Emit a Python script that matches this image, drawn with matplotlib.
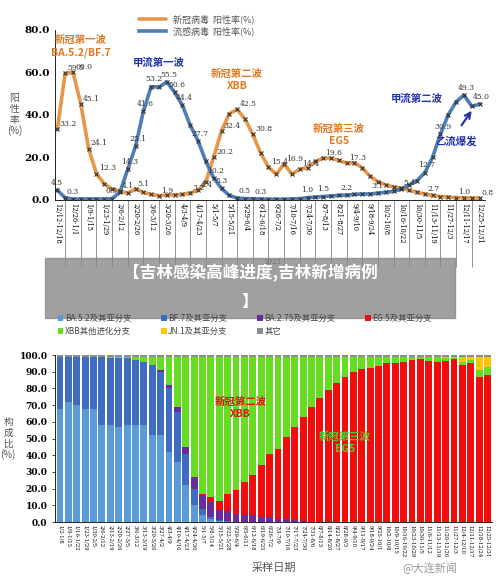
import matplotlib.pyplot as plt
from matplotlib.patches import Rectangle
import numpy as np

plt.rcParams['font.family'] = ['Noto Sans CJK SC', 'DejaVu Sans']

ORANGE = "#E8964A"
BLUE = "#4F7DB8"

# ---- top chart: weekly positivity rate, 2022-12-12 .. 2023-12-31
covid = [33.2, 59.5, 60.0, 45.1, 24.1, 12.3, 7.5, 5.0, 4.1, 3.1,
         5.1, 3.5, 2.5, 1.9, 2.2, 2.3, 2.5, 3.2, 4.4, 8.5,
         20.2, 32.4, 40.5, 42.5, 38.0, 30.8, 22.0, 15.4, 12.0, 16.9,
         12.0, 14.4, 15.0, 18.0, 19.6, 19.6, 18.5, 17.3, 17.5, 15.0,
         11.0, 8.5, 7.0, 6.0, 5.4, 4.5, 3.5, 2.7, 2.0, 1.5,
         1.2, 1.0, 0.9, 0.8, 0.8]
flu = [4.5, 0.9, 0.3, 0.3, 0.3, 0.3, 0.3, 0.5, 3.5, 14.3,
       25.1, 41.6, 53.2, 53.0, 55.5, 50.6, 44.4, 35.0, 27.7, 18.0,
       10.2, 5.3, 2.0, 0.8, 0.5, 0.5, 0.3, 0.2, 0.2, 0.2,
       0.3, 0.5, 1.0, 1.2, 1.5, 1.8, 2.0, 2.2, 2.5, 2.7,
       2.7, 3.1, 3.5, 4.0, 5.0, 7.0, 9.0, 12.7, 20.0, 30.9,
       40.0, 46.0, 49.3, 44.0, 45.0]
covid_lab = [0, 1, 2, 3, 4, 5, 8, 10, 13, 17, 18, 20, 21, 23, 25, 27, 29, 31, 34, 37, 44, 47, 51, 54]
flu_lab = [0, 2, 7, 9, 10, 11, 12, 14, 15, 16, 18, 20, 21, 24, 26, 32, 34, 37, 41, 47, 49, 52, 54]

# ---- bottom chart: variant composition, weekly 2023
weeks = ["1/2-1/8", "1/9-1/15", "1/16-1/22", "1/23-1/29", "1/30-2/5", "2/6-2/12", "2/13-2/19",
         "2/20-2/26", "2/27-3/5", "3/6-3/12", "3/13-3/19", "3/20-3/26", "3/27-4/2", "4/3-4/9",
         "4/10-4/16", "4/17-4/23", "4/24-4/30", "5/1-5/7", "5/8-5/14", "5/15-5/21", "5/22-5/28",
         "5/29-6/4", "6/5-6/11", "6/12-6/18", "6/19-6/25", "6/26-7/2", "7/3-7/9", "7/10-7/16",
         "7/17-7/23", "7/24-7/30", "7/31-8/6", "8/7-8/13", "8/14-8/20", "8/21-8/27", "8/28-9/3",
         "9/4-9/10", "9/11-9/17", "9/18-9/24", "9/25-10/1", "10/2-10/8", "10/9-10/15",
         "10/16-10/22", "10/23-10/29", "10/30-11/5", "11/6-11/12", "11/13-11/19", "11/20-11/26",
         "11/27-12/3", "12/4-12/10", "12/11-12/17", "12/18-12/24", "12/25-12/31"]
top_ticks = ["12/12-12/18", "12/26-1/1"] + weeks[1::2]

z = [0] * 52
ba52 = [68, 72, 70, 68, 68, 58, 58, 57, 58, 58, 58, 52, 52, 42, 36, 22, 10, 4, 2, 0.5] + z[:32]
bf7 = [31, 27, 29, 31, 31, 41, 40.5, 41, 40, 39, 38, 42, 38, 38, 30, 19, 10, 4, 1, 0.5, 0.5] + z[:31]
ba275 = [0] * 12 + [1, 2, 3, 4, 7, 8, 9, 6, 6, 5, 4, 4, 3, 3, 2, 2, 1, 0.5] + z[:22]
eg5 = [0] * 17 + [1, 3, 5.5, 10.5, 14, 20, 24, 31, 38, 42, 49, 56, 62.5,
                  69, 74, 79, 83, 87, 90, 91.5, 92, 93.5, 95, 95.5, 96, 97, 97.5, 96.5, 96,
                  96.5, 97.5, 94, 95.5, 87, 88]
xbb = [0, 0, 0, 0, 0, 0, 0.5, 1, 1, 2, 3, 5, 8, 17, 30, 54, 72, 82, 84, 86.5, 82, 80,
       75, 71, 65, 58, 55, 48, 42, 36, 30, 25, 20, 16, 12, 9, 7.5, 7, 5.5, 4, 3.5, 3, 2,
       1.5, 2.5, 3, 2, 0.5, 2, 1.5, 4, 5]
jn1 = [0] * 46 + [0.5, 1, 3, 2, 8, 6]
other = [1] * 52
series = [("BA.5.2及其亚分支", ba52, "#5B9BD5"), ("BF.7及其亚分支", bf7, "#3F6CC0"),
          ("BA.2.75及其亚分支", ba275, "#6A2C9A"), ("EG.5及其亚分支", eg5, "#F20D0D"),
          ("XBB其他进化分支", xbb, "#66DD22"), ("JN.1及其亚分支", jn1, "#FFC20E"),
          ("其它", other, "#8C8C8C")]

fig = plt.figure(figsize=(5.0, 5.84), dpi=100)

# ================= top chart
ax = fig.add_axes([0.11, 0.658, 0.86, 0.291])
x = np.arange(len(covid))
ax.plot(x, covid, color=ORANGE, lw=2.6, solid_capstyle="round", zorder=2, label="新冠病毒  阳性率(%)")
ax.plot(x, covid, ls="none", marker="x", ms=2.2, mew=0.8, color="#333", zorder=3)
ax.plot(x, flu, color=BLUE, lw=2.6, zorder=2, label="流感病毒  阳性率(%)")
ax.plot(x, flu, ls="none", marker="x", ms=2.2, mew=0.8, color="#333", zorder=3)
for i in covid_lab:
    ax.text(i + 0.3, covid[i] + 1.5, f"{covid[i]:.1f}", fontsize=5.5, family="DejaVu Serif", color="#333")
for i in flu_lab:
    ax.text(i - 0.8, flu[i] + 2.5, f"{flu[i]:.1f}", fontsize=5.5, family="DejaVu Serif", color="#333")
ax.set_xlim(-0.3, len(covid) - 0.3)
ax.set_ylim(0, 80)
ax.set_yticks([0, 20, 40, 60, 80])
ax.set_yticklabels([f"{v:.1f}" for v in [0, 20, 40, 60, 80]], family="DejaVu Serif", fontsize=7.5, fontweight="bold")
ax.set_xticks(np.arange(0, len(covid), 2))
ax.set_xticklabels(top_ticks, rotation=-90, fontsize=4.8, family="DejaVu Serif")
ax.set_xticks(np.arange(1, len(covid), 2), minor=True)
ax.tick_params(axis="x", which="major", length=0, pad=2)
ax.tick_params(axis="x", which="minor", length=48, width=0.5, color="#666")
ax.tick_params(axis="y", length=0)
for s in ["top", "right"]:
    ax.spines[s].set_visible(False)
ax.spines["left"].set_linewidth(0.6)
ax.spines["bottom"].set_linewidth(0.6)
ax.text(-5.5, 40, "阳\n性\n率\n(%)", fontsize=7, ha="center", va="center", color="#555", linespacing=1.1)
ax.legend(loc="upper center", bbox_to_anchor=(0.33, 1.14), frameon=False, fontsize=6.5,
          handlelength=3, labelspacing=0.3, labelcolor="#555")
ax.text(3, 68, "新冠第一波\nBA.5.2/BF.7", color="#E07A22", fontsize=7.5, fontweight="bold",
        ha="center", linespacing=1.3)
ax.text(13, 63, "甲流第一波", color="#2233AA", fontsize=7.5, fontweight="bold", ha="center")
ax.text(23, 52, "新冠第二波\nXBB", color="#E07A22", fontsize=7.5, fontweight="bold", ha="center", linespacing=1.3)
ax.text(36, 26, "新冠第三波\nEG5", color="#E07A22", fontsize=7.5, fontweight="bold", ha="center", linespacing=1.3)
ax.text(46, 46, "甲流第二波", color="#2233AA", fontsize=7.5, fontweight="bold", ha="center")
ax.text(51, 26, "乙流爆发", color="#2233AA", fontsize=7.5, fontweight="bold", ha="center")
ax.annotate("", xy=(53.2, 43), xytext=(51.5, 34),
            arrowprops=dict(arrowstyle="->", color="#2233AA", lw=1.6))
fig.text(0.545, 0.548, "2023", fontsize=5, ha="center", family="DejaVu Serif")

# ================= banner overlay
fig.patches.append(Rectangle((0.09, 0.455), 0.82, 0.103, transform=fig.transFigure,
                             color="#888888", alpha=0.8, zorder=5))
fig.text(0.5, 0.532, "【吉林感染高峰进度,吉林新增病例", fontsize=12, color="white",
         fontweight="bold", ha="center", va="center", zorder=6)
fig.text(0.5, 0.483, "】", fontsize=12, color="white", fontweight="bold", ha="center", va="center", zorder=6)

# ================= bottom chart
bx = fig.add_axes([0.11, 0.106, 0.875, 0.286])
xb = np.arange(len(weeks))
bottom = np.zeros(len(weeks))
for name, vals, col in series:
    bx.bar(xb, vals, bottom=bottom, width=0.82, color=col, label=name, linewidth=0)
    bottom += np.array(vals)
bx.set_xlim(-0.6, len(weeks) - 0.4)
bx.set_ylim(0, 100)
bx.set_yticks(np.arange(0, 101, 10))
bx.set_yticklabels([f"{v:.1f}" for v in range(0, 101, 10)], family="DejaVu Serif", fontsize=6.5, fontweight="bold")
bx.set_xticks(xb)
bx.set_xticklabels(weeks, rotation=-90, fontsize=3.8, family="DejaVu Serif")
bx.tick_params(axis="x", length=0, pad=2)
bx.tick_params(axis="y", length=2, width=0.5)
for s in ["top", "right"]:
    bx.spines[s].set_visible(False)
bx.spines["left"].set_linewidth(0.6)
bx.spines["bottom"].set_linewidth(0.6)
bx.set_ylabel("构\n成\n比\n(%)", rotation=0, fontsize=7, color="#555", labelpad=8, va="center", linespacing=1.1)
bx.set_xlabel("采样日期", fontsize=8, color="#555", labelpad=4)
bx.text(21.5, 63, "新冠第二波\nXBB", color="#E81010", fontsize=7.5, fontweight="bold", ha="center", linespacing=1.3)
bx.text(34, 42, "新冠第三波\nEG5", color="#55CC33", fontsize=7.5, fontweight="bold", ha="center", linespacing=1.3)
h, l = bx.get_legend_handles_labels()
fig.legend([h[i] for i in [0, 4, 1, 5, 2, 6, 3]], [l[i] for i in [0, 4, 1, 5, 2, 6, 3]],
           loc="upper left", bbox_to_anchor=(0.1, 0.475), ncol=4, frameon=False, fontsize=6,
           handlelength=0.7, handleheight=0.7, columnspacing=3.5, labelspacing=0.5, handletextpad=0.2,
           labelcolor="#444")
fig.text(0.86, 0.02, "@大连新闻", fontsize=8, color="#999", ha="center")

fig.savefig("out.png", dpi=100)
